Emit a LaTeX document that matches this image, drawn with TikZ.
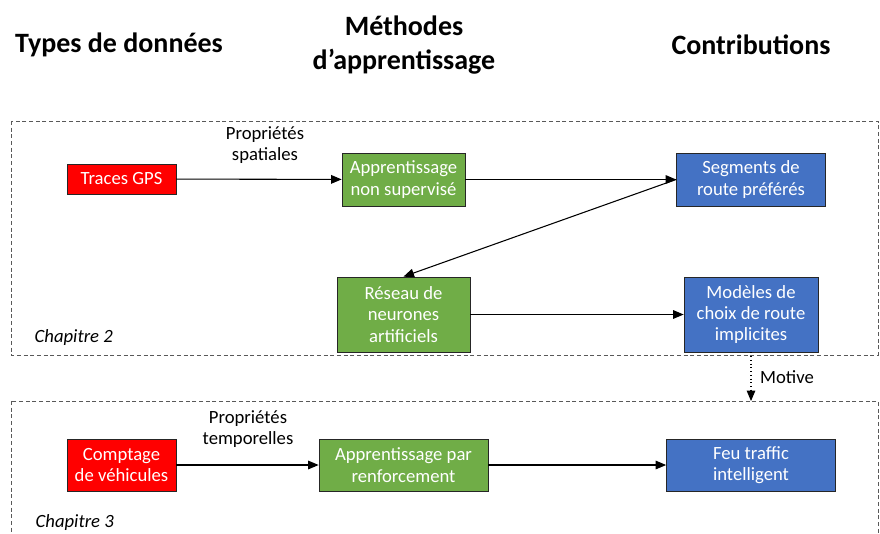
\documentclass[tikz,border=0pt]{standalone}
\usepackage{fontspec}
\setmainfont{Carlito}
\usetikzlibrary{arrows}

\definecolor{rougebox}{HTML}{FF0000}
\definecolor{vertbox}{HTML}{70AD47}
\definecolor{bleubox}{HTML}{4472C4}

\tikzset{
  boite/.style={draw=black!85, line width=0.6pt, text=white, align=center, inner sep=0pt,
    font=\fontsize{14}{16}\selectfont},
  donnee/.style={boite, fill=rougebox},
  methode/.style={boite, fill=vertbox},
  contrib/.style={boite, fill=bleubox},
  titre/.style={align=center, font=\fontsize{21}{26}\selectfont\bfseries},
  etiquette/.style={align=center, font=\fontsize{14}{16}\selectfont},
  chapitre/.style={anchor=west, font=\fontsize{14}{16}\selectfont\itshape},
  cadre/.style={draw=black!65, line width=0.6pt, dash pattern=on 3pt off 2pt},
  fleche/.style={->, line width=0.8pt}
}

\begin{document}
\begin{tikzpicture}[line cap=butt,line join=miter,>=triangle 45,x=0.75pt,y=-0.75pt]
        \useasboundingbox (0,0) rectangle (880,533);
        \clip (0,0) rectangle (880,533);
        % titres des colonnes
        \node[titre] (titreDonnees) at (119,45) {Types de données};
        \node[titre] (titreMethodes) at (404,45) {Méthodes\\d’apprentissage};
        \node[titre] (titreContrib) at (751,45) {Contributions};
        % cadres des chapitres
        \draw[cadre] (11,121) rectangle (878,355);
        \draw[cadre] (11,401) rectangle (878,570);
        \node[chapitre] (chap2) at (30,338) {Chapitre 2};
        \node[chapitre] (chap3) at (31,523) {Chapitre 3};
        % chapitre 2
        \node[donnee, minimum width=81.75pt, minimum height=22.5pt] (traces) at (121.5,179) {Traces GPS};
        \node[methode, minimum width=92.25pt, minimum height=39.75pt] (nonsup) at (403.5,179.5) {Apprentissage\\non supervisé};
        \node[contrib, minimum width=111.75pt, minimum height=39.75pt] (segments) at (751,179.5) {Segments de\\route préférés};
        \node[methode, minimum width=99.75pt, minimum height=56.25pt] (reseau) at (403.5,314.5) {Réseau de\\neurones\\artificiels};
        \node[contrib, minimum width=100.5pt, minimum height=56.25pt] (modeles) at (751,314.5) {Modèles de\\choix de route\\implicites};
        \node[etiquette] (propSpat) at (265,145) {Propriétés\\spatiales};
        \draw[fleche] (traces) -- (nonsup);
        \draw[fleche] (nonsup) -- (segments);
        \draw[fleche] (segments.west) -- (reseau.north);
        \draw[fleche] (reseau) -- (modeles);
        % lien entre chapitres
        \coordinate (motiveBas) at (751,401);
        \draw[->, line width=0.8pt, dotted] (modeles) -- (motiveBas);
        \node[etiquette] (motive) at (787,377) {Motive};
        % chapitre 3
        \node[donnee, minimum width=81.75pt, minimum height=39pt] (comptage) at (121.5,465) {Comptage\\de véhicules};
        \node[methode, minimum width=126.75pt, minimum height=39pt] (renfo) at (403.5,465) {Apprentissage par\\renforcement};
        \node[contrib, minimum width=126.75pt, minimum height=39pt] (feu) at (751,465) {Feu traffic\\intelligent};
        \node[etiquette] (propTemp) at (248,429) {Propriétés\\temporelles};
        \draw[fleche] (comptage) -- (renfo);
        \draw[fleche] (renfo) -- (feu);
\end{tikzpicture}
\end{document}
